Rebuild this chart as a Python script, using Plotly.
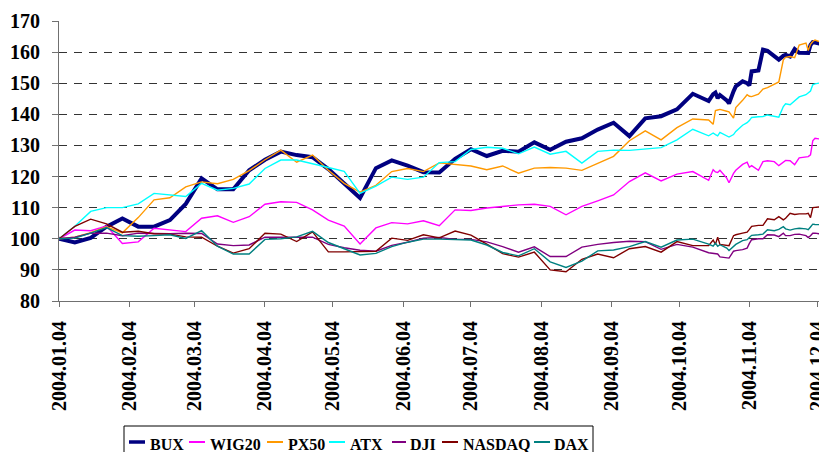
import plotly.graph_objects as go

# ---------------- data ----------------
dates_weekly = [
    "2004-01-04", "2004-01-11", "2004-01-18", "2004-01-25", "2004-02-01", "2004-02-08",
    "2004-02-15", "2004-02-22", "2004-02-29", "2004-03-07", "2004-03-14", "2004-03-21",
    "2004-03-28", "2004-04-04", "2004-04-11", "2004-04-18", "2004-04-25", "2004-05-02",
    "2004-05-09", "2004-05-16", "2004-05-23", "2004-05-30", "2004-06-06", "2004-06-13",
    "2004-06-20", "2004-06-27", "2004-07-04", "2004-07-11", "2004-07-18", "2004-07-25",
    "2004-08-01", "2004-08-08", "2004-08-15", "2004-08-22", "2004-08-29", "2004-09-05",
    "2004-09-12", "2004-09-19", "2004-09-26", "2004-10-03", "2004-10-10",
]
dates_daily = [
    "2004-10-17", "2004-10-19", "2004-10-20", "2004-10-21", "2004-10-22", "2004-10-25",
    "2004-10-26", "2004-10-28", "2004-10-29", "2004-11-01", "2004-11-03", "2004-11-04",
    "2004-11-05", "2004-11-08", "2004-11-10", "2004-11-12", "2004-11-15", "2004-11-17",
    "2004-11-19", "2004-11-20", "2004-11-22", "2004-11-24", "2004-11-26", "2004-11-29",
    "2004-11-30", "2004-12-01", "2004-12-02", "2004-12-03", "2004-12-06", "2004-12-08",
]
dates = dates_weekly + dates_daily

bux = [100, 98.8, 100.3, 103.9, 106.5, 103.9, 103.9, 106.0, 111.2, 119.4, 115.9, 115.9,
       122.0, 125.4, 128.0, 126.9, 126.2, 122.4, 117.8, 113.1, 122.7, 125.2, 123.5, 121.4,
       121.3, 125.7, 128.8, 126.6, 128.3, 128.0, 131.0, 128.6, 131.2, 132.3, 135.1, 137.3,
       133.0, 138.7, 139.4, 141.6, 146.6,
       144.3, 146.5, 147.0, 145.2, 146.2, 144.5, 143.5, 147.4, 149.0, 150.6, 150.0, 149.3,
       153.8, 154.1, 160.8, 160.4, 158.6, 157.6, 158.8, 159.1, 158.6, 161.0, 159.8, 159.7,
       159.7, 162.3, 163.2, 163.1, 162.6, 163.0]
wig20 = [100, 102.8, 102.6, 104.1, 98.5, 99.0, 103.4, 102.9, 102.3, 106.6, 107.4, 105.3,
         107.1, 111.1, 111.9, 111.7, 109.3, 106.0, 104.1, 98.3, 103.5, 105.2, 104.8, 105.8,
         104.2, 109.3, 109.1, 109.9, 110.4, 110.9, 111.1, 110.4, 107.7, 110.4, 112.2, 114.1,
         118.4, 121.2, 118.6, 120.8, 121.6,
         118.8, 122.2, 121.5, 121.3, 122.0, 119.5, 118.0, 121.0, 122.0, 123.9, 124.6, 123.0,
         123.5, 122.0, 124.8, 125.1, 124.8, 123.5, 124.5, 125.2, 125.1, 123.8, 126.0, 126.2,
         126.4, 127.0, 131.5, 132.3, 132.0, 132.3]
px50 = [100, 100.5, 102.0, 103.9, 101.9, 106.8, 112.5, 113.2, 116.7, 118.3, 117.7, 119.1,
        121.9, 125.4, 128.5, 124.6, 126.9, 122.0, 117.8, 115.0, 117.2, 121.6, 122.6, 121.6,
        124.4, 123.8, 123.4, 122.2, 123.4, 121.1, 122.7, 122.9, 122.7, 122.0, 124.3, 126.5,
        131.5, 134.7, 131.8, 135.7, 138.5,
        138.2, 136.8, 141.2, 141.4, 141.6, 141.0, 140.8, 138.8, 142.2, 144.5, 146.3, 145.8,
        145.7, 146.5, 148.1, 148.6, 149.6, 150.4, 157.5, 158.3, 158.6, 158.2, 162.3, 162.9,
        160.5, 162.5, 163.4, 163.9, 163.1, 163.4]
atx = [100, 104.0, 108.8, 110.0, 110.0, 111.2, 114.6, 114.1, 113.6, 117.8, 115.6, 116.2,
       117.6, 122.6, 125.3, 125.3, 124.2, 122.9, 121.7, 114.6, 116.9, 119.8, 119.1, 119.8,
       124.5, 124.8, 128.7, 129.4, 129.1, 127.3, 129.5, 127.2, 128.1, 124.3, 128.1, 128.5,
       128.4, 128.8, 129.3, 131.8, 135.2,
       133.1, 134.0, 133.5, 133.1, 134.2, 133.0, 132.7, 133.5, 134.5, 136.5, 137.3, 138.0,
       139.0, 139.2, 139.3, 139.8, 139.3, 139.1, 142.5, 143.4, 143.1, 144.5, 145.6, 146.3,
       147.0, 147.5, 149.5, 149.8, 150.2, 150.7]
dji = [100, 100.5, 101.8, 101.8, 101.0, 101.8, 101.7, 101.6, 101.8, 101.7, 98.3, 97.8,
       98.0, 100.5, 100.5, 100.6, 100.5, 98.2, 97.1, 96.3, 96.0, 97.9, 98.9, 100.2,
       100.4, 99.8, 99.8, 99.0, 97.5, 95.7, 97.4, 94.3, 94.3, 97.3, 98.2, 98.8,
       99.2, 99.1, 96.6, 98.2, 97.3,
       95.5, 95.3, 95.2, 95.1, 94.2, 94.0, 93.8, 96.0, 96.2, 96.5, 97.0, 98.5,
       99.7, 100.0, 100.0, 101.3, 101.2, 100.7, 101.8, 101.0, 101.0, 101.4, 101.5, 101.0,
       100.4, 101.0, 101.8, 101.8, 101.5, 101.3]
nasdaq = [100, 104.0, 106.3, 104.8, 102.1, 102.4, 101.6, 101.5, 100.6, 100.5, 97.6, 95.4,
          96.8, 101.8, 101.5, 99.1, 102.2, 95.8, 95.8, 95.9, 96.0, 100.2, 99.5, 101.3,
          100.3, 102.5, 101.2, 98.3, 95.2, 94.1, 95.7, 90.0, 89.4, 93.4, 95.1, 93.9,
          96.8, 97.5, 95.7, 99.1, 97.8,
          97.8, 99.6, 98.2, 100.5, 98.2, 98.0, 97.8, 101.0, 101.3, 101.8, 102.1, 103.0,
          104.0, 104.3, 104.3, 106.4, 106.1, 107.1, 106.1, 106.6, 108.2, 107.8, 108.0, 108.0,
          108.2, 106.8, 110.0, 110.1, 110.3, 110.7]
dax = [100, 100.2, 101.8, 103.6, 101.0, 100.8, 101.0, 101.3, 100.1, 102.6, 97.6, 95.1,
       95.1, 99.8, 100.0, 100.6, 102.4, 98.8, 96.8, 94.8, 95.3, 97.5, 98.9, 99.9,
       99.9, 99.7, 99.6, 98.0, 95.6, 94.5, 96.8, 92.6, 90.8, 92.8, 96.1, 96.4,
       97.5, 99.1, 97.3, 99.6, 99.9,
       98.3, 97.6, 98.6, 97.6, 98.1, 97.0, 96.2, 97.6, 98.2, 99.4, 99.7, 100.4,
       101.1, 101.3, 101.5, 102.9, 102.6, 103.0, 103.9, 103.2, 102.8, 103.2, 103.4, 103.2,
       102.9, 103.8, 104.7, 104.6, 104.5, 105.0]

series_names = ["BUX", "WIG20", "PX50", "ATX", "DJI", "NASDAQ", "DAX"]
series_values = [bux, wig20, px50, atx, dji, nasdaq, dax]

tick_dates = ["2004-01-04", "2004-02-04", "2004-03-04", "2004-04-04", "2004-05-04",
              "2004-06-04", "2004-07-04", "2004-08-04", "2004-09-04", "2004-10-04",
              "2004-11-04", "2004-12-04"]
tick_labels = ["2004.01.04", "2004.02.04", "2004.03.04", "2004.04.04", "2004.05.04",
               "2004.06.04", "2004.07.04", "2004.08.04", "2004.09.04", "2004.10.04",
               "2004.11.04", "2004.12.04"]
y_ticks = [80, 90, 100, 110, 120, 130, 140, 150, 160, 170]

# ---------------- style ----------------
colors = ["#000080", "#FF00FF", "#FF9900", "#00FFFF", "#800080", "#800000", "#008080"]
widths = [4, 1.4, 1.4, 1.4, 1.4, 1.4, 1.4]
legend_widths = [3.5, 2, 2, 2, 2, 2, 2]
FONT = "'Liberation Serif', 'Times New Roman', Times, serif"

# page geometry (the html body adds an 8px offset, so the figure is sized to fit)
OFF = 8
PAGE_W, PAGE_H = 827, 452
W, H = PAGE_W - OFF, PAGE_H - OFF
PLOT_LEFT, PLOT_TOP, PLOT_RIGHT, PLOT_BOTTOM = 59, 21, 827, 301   # page pixels
L, T = PLOT_LEFT - OFF, PLOT_TOP - OFF
R, B = PAGE_W - PLOT_RIGHT, PAGE_H - PLOT_BOTTOM
PW, PH = W - L - R, H - T - B


def px_x(px):
    return (px - PLOT_LEFT) / PW


def px_y(py):
    return (PLOT_BOTTOM - py) / PH


fig = go.Figure()
for name, vals, col, w in zip(series_names, series_values, colors, widths):
    fig.add_trace(go.Scatter(x=dates, y=vals, mode="lines", name=name,
                             line=dict(color=col, width=w), showlegend=False))

# manual legend (horizontal, boxed, like the reference)
leg_line_x = [(129, 145), (189, 205), (267, 283), (329, 345), (392, 406), (442, 458), (534, 550)]
leg_text_x = [148, 208, 286, 348, 408, 461, 552]
shapes = [dict(type="rect", xref="paper", yref="paper",
               x0=px_x(124), x1=px_x(593), y0=px_y(470), y1=px_y(426),
               line=dict(color="black", width=1), fillcolor="white", layer="below")]
annotations = []
for name, col, lw, (a, b), tx in zip(series_names, colors, legend_widths, leg_line_x, leg_text_x):
    shapes.append(dict(type="line", xref="paper", yref="paper",
                       x0=px_x(a), x1=px_x(b), y0=px_y(442), y1=px_y(442),
                       line=dict(color=col, width=lw)))
    annotations.append(dict(text="<b>" + name + "</b>", xref="paper", yref="paper",
                            x=px_x(tx), y=px_y(444),
                            xanchor="left", yanchor="middle", showarrow=False,
                            font=dict(family=FONT, size=16, color="black")))

fig.update_layout(
    width=W, height=H,
    margin=dict(l=L, r=R, t=T, b=B, pad=0, autoexpand=False),
    paper_bgcolor="white", plot_bgcolor="white",
    shapes=shapes, annotations=annotations,
    showlegend=False,
    font=dict(family=FONT, color="black"),
)
fig.update_xaxes(
    type="date", range=["2004-01-04", "2004-12-08 07:00"], automargin=False,
    tickmode="array", tickvals=tick_dates, ticktext=["<b>" + t + "</b>" for t in tick_labels],
    tickangle=-90, ticklabeloverflow="allow",
    tickfont=dict(family=FONT, size=20, color="black"),
    showline=True, linecolor="#707070", linewidth=1,
    ticks="outside", ticklen=5, tickcolor="#707070", tickwidth=1,
    ticklabelstandoff=6,
    showgrid=False, zeroline=False,
)
fig.update_yaxes(
    range=[80, 170], automargin=False, tickmode="array", tickvals=y_ticks,
    ticktext=["<b>%d</b>" % v for v in y_ticks],
    tickfont=dict(family=FONT, size=20, color="black"),
    showline=True, linecolor="#707070", linewidth=1,
    ticks="outside", ticklen=6, tickcolor="#707070", tickwidth=1,
    ticklabelstandoff=8,
    showgrid=True, gridcolor="#333333", gridwidth=1, griddash="8px,7px",
    zeroline=False,
)

fig.write_html("out.html")
